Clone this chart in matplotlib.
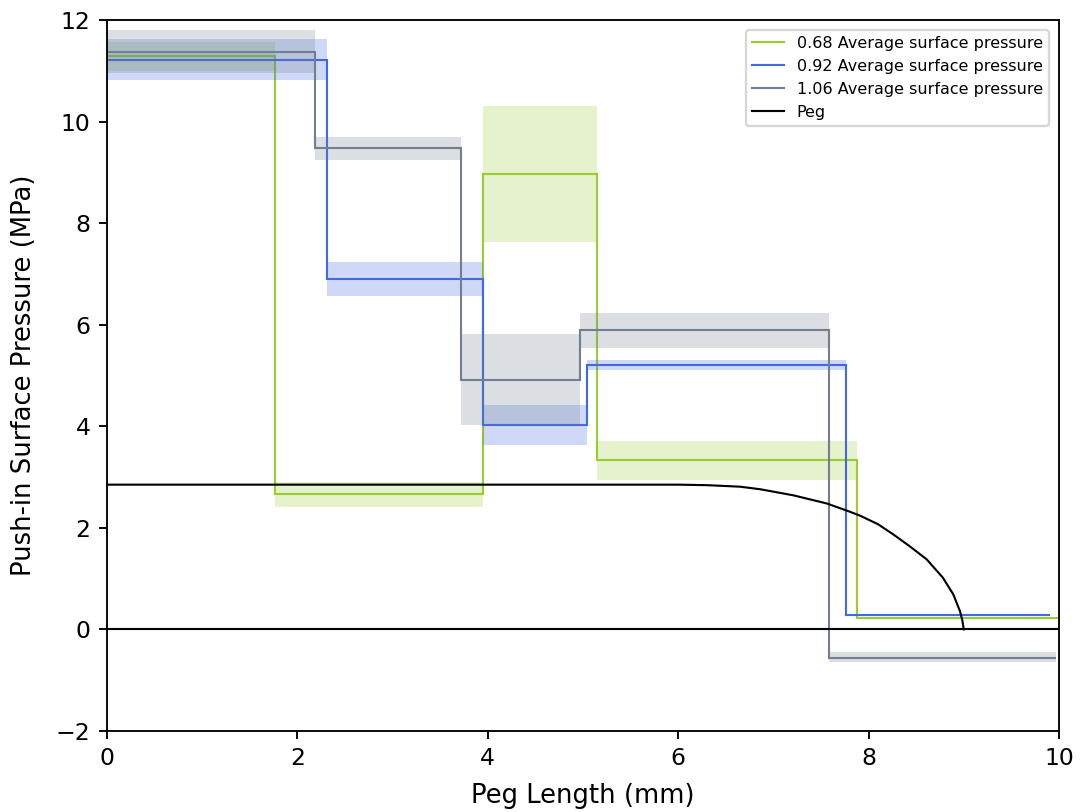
import matplotlib
matplotlib.use("Agg")
import matplotlib.pyplot as plt
import numpy as np

# segment edges along the peg (mm) and mean pressure / band per segment (MPa)
edges_068 = [0.0, 1.76, 3.95, 5.15, 7.88, 10.0]
mean_068 = [11.29, 2.66, 8.96, 3.33, 0.23]
low_068 = [11.00, 2.41, 7.62, 2.95, 0.21]
high_068 = [11.57, 2.90, 10.31, 3.71, 0.25]

edges_092 = [0.0, 2.31, 3.95, 5.04, 7.76, 9.91]
mean_092 = [11.22, 6.89, 4.02, 5.20, 0.28]
low_092 = [10.81, 6.56, 3.64, 5.10, 0.26]
high_092 = [11.63, 7.23, 4.41, 5.31, 0.30]

edges_106 = [0.0, 2.19, 3.72, 4.97, 7.58, 9.97]
mean_106 = [11.37, 9.47, 4.92, 5.89, -0.56]
low_106 = [10.96, 9.25, 4.02, 5.55, -0.64]
high_106 = [11.80, 9.70, 5.81, 6.23, -0.45]

# peg profile
peg_x = [0.0, 6.0, 6.3, 6.65, 6.86, 7.21, 7.56, 7.77, 7.91, 8.1, 8.26, 8.43,
         8.61, 8.78, 8.89, 8.96, 8.985, 9.0]
peg_y = [2.85, 2.85, 2.84, 2.81, 2.76, 2.64, 2.48, 2.34, 2.24, 2.07, 1.87, 1.64,
         1.38, 1.02, 0.69, 0.36, 0.18, 0.0]

series = [
    ("0.68 Average surface pressure", "yellowgreen", edges_068, mean_068, low_068, high_068),
    ("0.92 Average surface pressure", "royalblue", edges_092, mean_092, low_092, high_092),
    ("1.06 Average surface pressure", "slategray", edges_106, mean_106, low_106, high_106),
]

fig, ax = plt.subplots(figsize=(1081 / 169, 812 / 169), dpi=169)
fig.subplots_adjust(left=0.099, right=0.9796, top=0.9754, bottom=0.0998)

for label, color, edges, mean, low, high in series:
    ax.stairs(np.array(high), edges, baseline=np.array(low), fill=True,
              color=color, alpha=0.25, linewidth=0)
    ax.stairs(mean, edges, baseline=None, color=color, linewidth=0.9, label=label)

ax.plot(peg_x, peg_y, color="black", linewidth=0.9, label="Peg")
ax.axhline(0, color="black", linewidth=0.9)

ax.set_xlim(0, 10)
ax.set_ylim(-2, 12)
ax.set_xlabel("Peg Length (mm)", fontsize=11, labelpad=5.5)
ax.set_ylabel("Push-in Surface Pressure (MPa)", fontsize=11, labelpad=8)
ax.legend(loc="upper right", fontsize=6.8, borderaxespad=0.6)

fig.savefig("out.png", dpi=169)
